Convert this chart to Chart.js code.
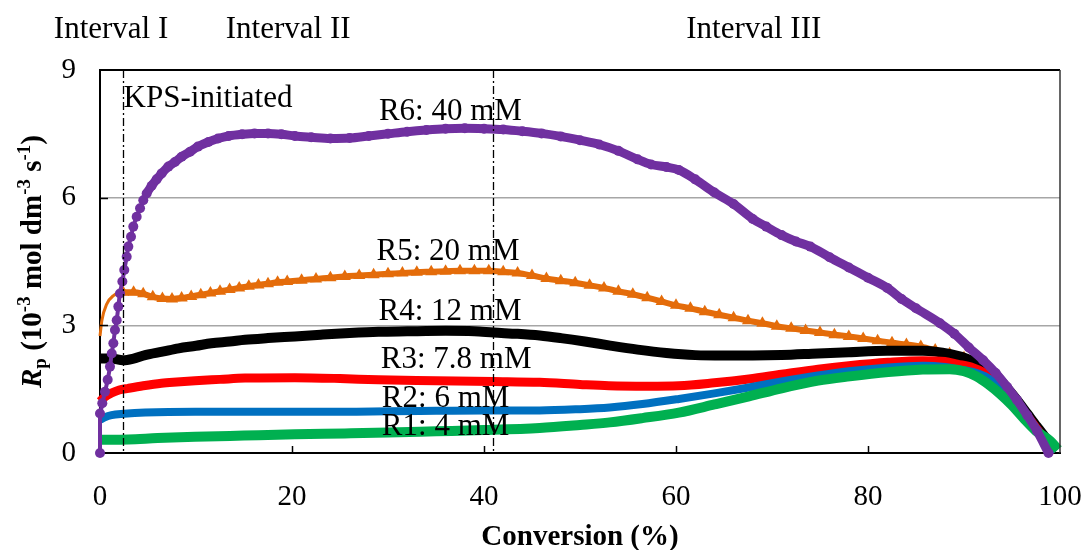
<!DOCTYPE html>
<html>
<head>
<meta charset="utf-8">
<script src="https://cdn.jsdelivr.net/npm/chart.js"></script>
<style>
  body { margin: 0; background: #fff; }
</style>
</head>
<body>
<canvas id="rpChart" width="1086" height="550"></canvas>
<script>
const FONT = '"Liberation Serif", "Times New Roman", serif';

// polymerization rate vs conversion, one array pair per KPS level
const r1X = [0, 2.95, 6, 9.9, 15, 20.3, 25.5, 30, 35, 40,
  45.8, 50, 53.1, 56.5, 60.3, 64, 67.6, 71, 74.8, 78.1,
  82.1, 85.7, 88.5, 90, 91.3, 92.5, 93.8, 95, 96.2, 97.5,
  99, 99.8];
const r1Y = [0.31, 0.32, 0.35, 0.38, 0.41, 0.44, 0.46, 0.48, 0.51, 0.54,
  0.59, 0.66, 0.72, 0.82, 0.95, 1.14, 1.33, 1.52, 1.70, 1.80,
  1.90, 1.96, 1.97, 1.92, 1.80, 1.62, 1.38, 1.12, 0.82, 0.52,
  0.28, 0.08];

const r2X = [0, 0.5, 1.2, 2.5, 4.7, 9.9, 15, 20.3, 25.5, 30,
  35, 40, 45.8, 50, 53.1, 56.5, 60.3, 64, 67.6, 71,
  74.8, 78, 82.1, 85.7, 88, 89.3, 91, 92.2, 93.5, 95,
  96.5, 98, 99.6];
const r2Y = [0.78, 0.84, 0.89, 0.92, 0.95, 0.97, 0.97, 0.97, 0.97, 0.98,
  0.99, 1.00, 1.00, 1.03, 1.07, 1.15, 1.27, 1.40, 1.54, 1.68,
  1.82, 1.92, 2.01, 2.05, 2.02, 1.97, 1.90, 1.80, 1.60, 1.25,
  0.88, 0.45, 0.05];

const r3X = [0, 0.5, 1.2, 2, 2.95, 4.5, 6.4, 8, 9.9, 12.5,
  15.1, 20.3, 25, 29, 35, 41, 45.8, 50, 53, 57,
  60.3, 64, 67.6, 71, 74.8, 78, 82.1, 85.7, 88, 89.3,
  91, 92.2, 93.5, 95, 96.5, 98, 99.6];
const r3Y = [1.21, 1.32, 1.41, 1.48, 1.52, 1.58, 1.64, 1.67, 1.70, 1.73,
  1.76, 1.77, 1.75, 1.72, 1.70, 1.68, 1.66, 1.61, 1.58, 1.57,
  1.58, 1.65, 1.74, 1.85, 1.97, 2.05, 2.13, 2.17, 2.15, 2.09,
  2.00, 1.88, 1.65, 1.30, 0.90, 0.45, 0.05];

const r4X = [0, 1.2, 2.4, 3.5, 4.7, 6.5, 8.2, 10, 11.6, 13.5,
  15.1, 17.5, 20.3, 23, 26, 29, 32, 36, 39, 41,
  43.5, 45.8, 48, 50.5, 53, 56, 59, 62, 65, 68,
  71, 74.8, 78, 82, 85.7, 88.6, 90.5, 92, 93.1, 94.4,
  95.5, 96.6, 97.6, 98.5, 99.6];
const r4Y = [2.22, 2.22, 2.18, 2.22, 2.30, 2.38, 2.46, 2.52, 2.58, 2.62,
  2.66, 2.70, 2.74, 2.78, 2.82, 2.85, 2.86, 2.87, 2.86, 2.83,
  2.80, 2.76, 2.70, 2.62, 2.53, 2.43, 2.35, 2.30, 2.29, 2.29,
  2.30, 2.34, 2.37, 2.40, 2.40, 2.32, 2.20, 2.05, 1.88, 1.55,
  1.25, 0.92, 0.62, 0.36, 0.10];

const r5X = [0, 0.2, 0.7, 1.4, 2.4, 3.5, 4.5, 5.5, 6.5, 7.5,
  8.5, 9.5, 10.5, 11.5, 12.5, 13.5, 14.5, 15.5, 16.5, 17.5,
  18.5, 19.5, 21, 22.5, 24, 25.5, 27, 28.5, 30, 31.5,
  33, 34.5, 36, 37.5, 39, 40.5, 42, 43.5, 45, 46.5,
  48, 49.5, 51, 52.5, 54, 55.5, 57, 58.5, 60, 61.5,
  63, 64.5, 66, 67.5, 69, 70.5, 72, 73.5, 75, 76.5,
  78, 79.5, 81, 82.5, 84, 85.5, 87, 88.5, 90, 91.2,
  92.5, 93.5, 95, 96.5, 98, 99.5];
const r5Y = [2.75, 3.12, 3.50, 3.70, 3.78, 3.78, 3.74, 3.67, 3.63, 3.62,
  3.64, 3.68, 3.72, 3.76, 3.80, 3.84, 3.88, 3.92, 3.95, 3.98,
  4.01, 4.03, 4.06, 4.09, 4.12, 4.15, 4.17, 4.19, 4.21, 4.23,
  4.25, 4.26, 4.27, 4.28, 4.28, 4.28, 4.26, 4.23, 4.17, 4.10,
  4.05, 4.00, 3.94, 3.88, 3.80, 3.73, 3.65, 3.56, 3.47, 3.40,
  3.32, 3.25, 3.18, 3.11, 3.05, 2.98, 2.93, 2.88, 2.83, 2.78,
  2.74, 2.69, 2.64, 2.59, 2.55, 2.50, 2.42, 2.33, 2.24, 2.12,
  1.95, 1.75, 1.35, 0.90, 0.45, 0.05];

const r6X = [0, 0, 0.24, 0.52, 0.80, 1.04, 1.22, 1.39, 1.56, 1.74,
  1.91, 2.08, 2.33, 2.53, 2.78, 2.95, 3.23, 3.47, 3.82, 4.17,
  4.51, 4.86, 5.38, 5.9, 6.42, 7.12, 7.81, 8.51, 9.38, 10.2,
  11.3, 12.3, 13.4, 14.8, 16.1, 17.5, 18.9, 20.3, 22, 24,
  26, 28, 30, 32, 34, 36, 38, 40, 42, 44,
  46, 48, 50, 52, 54, 56, 57.4, 59, 60.3, 62,
  64, 66, 68, 69.4, 71, 72.5, 74, 76, 78, 80,
  82, 83.5, 85, 87.5, 89, 90.5, 92, 93.3, 94.5, 95.5,
  96.6, 97.6, 98.8];
const r6Y = [0, 0.93, 1.17, 1.44, 1.72, 2.03, 2.34, 2.58, 2.89, 3.12,
  3.44, 3.75, 4.03, 4.30, 4.61, 4.85, 5.08, 5.32, 5.55, 5.75,
  5.94, 6.10, 6.28, 6.43, 6.57, 6.73, 6.84, 6.96, 7.08, 7.20,
  7.31, 7.39, 7.45, 7.49, 7.51, 7.51, 7.49, 7.45, 7.42, 7.39,
  7.40, 7.45, 7.50, 7.55, 7.59, 7.62, 7.63, 7.62, 7.60, 7.56,
  7.51, 7.44, 7.35, 7.25, 7.10, 6.90, 6.78, 6.72, 6.65, 6.43,
  6.12, 5.85, 5.50, 5.32, 5.12, 4.97, 4.85, 4.60, 4.36, 4.12,
  3.88, 3.62, 3.40, 3.05, 2.80, 2.48, 2.18, 1.88, 1.55, 1.25,
  0.88, 0.52, 0];

const seriesNames = ['R1: 4 mM', 'R2: 6 mM', 'R3: 7.8 mM', 'R4: 12 mM', 'R5: 20 mM', 'R6: 40 mM'];
const intervalNames = ['Interval I', 'Interval II', 'Interval III'];
const intervalBounds = [2.4, 40.9];
const xTicks = [0, 20, 40, 60, 80, 100];
const yTicks = [0, 3, 6, 9];

const pts = (xs, ys) => xs.map((x, i) => ({x: x, y: ys[i]}));

// where the text notes sit, in axis units
const notePos = [[36.0, 0.42], [36.0, 1.09], [37.1, 1.99], [36.46, 3.125], [36.25, 4.53], [36.5, 7.82]];
const intervalPos = [1.15, 19.6, 68.1];

const annotations = {
  id: 'annotations',
  afterDatasetsDraw(chart) {
    const {ctx, chartArea: a, scales: {x, y}} = chart;
    ctx.save();

    // interval boundaries
    ctx.strokeStyle = '#000';
    ctx.lineWidth = 1.3;
    ctx.setLineDash([8, 3, 2, 3]);
    intervalBounds.forEach(v => {
      const px = Math.round(x.getPixelForValue(v)) + 0.5;
      ctx.beginPath();
      ctx.moveTo(px, a.top);
      ctx.lineTo(px, a.bottom);
      ctx.stroke();
    });
    ctx.setLineDash([]);

    // top and right edges of the plot frame
    ctx.lineWidth = 2;
    ctx.strokeStyle = '#000';
    ctx.beginPath();
    ctx.moveTo(a.left - 1, a.top);
    ctx.lineTo(a.right, a.top);
    ctx.stroke();
    ctx.strokeStyle = '#333';
    ctx.lineWidth = 1.5;
    ctx.beginPath();
    ctx.moveTo(a.right, a.top);
    ctx.lineTo(a.right, a.bottom);
    ctx.stroke();

    // short inward tick marks
    ctx.strokeStyle = '#000';
    ctx.lineWidth = 1.5;
    xTicks.slice(1, -1).forEach(v => {
      const px = Math.round(x.getPixelForValue(v)) + 0.5;
      ctx.beginPath();
      ctx.moveTo(px, a.bottom);
      ctx.lineTo(px, a.bottom - 7);
      ctx.stroke();
    });
    yTicks.slice(1, -1).forEach(v => {
      const py = Math.round(y.getPixelForValue(v)) + 0.5;
      ctx.beginPath();
      ctx.moveTo(a.left, py);
      ctx.lineTo(a.left + 8, py);
      ctx.stroke();
    });

    // series and initiator notes
    ctx.fillStyle = '#000';
    ctx.font = '31px ' + FONT;
    ctx.textAlign = 'center';
    ctx.textBaseline = 'alphabetic';
    seriesNames.forEach((t, i) => {
      ctx.fillText(t, x.getPixelForValue(notePos[i][0]), y.getPixelForValue(notePos[i][1]));
    });
    ctx.fillText('KPS-initiated', x.getPixelForValue(11.25), y.getPixelForValue(8.13));
    intervalNames.forEach((t, i) => {
      ctx.fillText(t, x.getPixelForValue(intervalPos[i]), a.top - 32);
    });
    ctx.restore();
  },
  afterDraw(chart) {
    const {ctx, chartArea: a} = chart;
    ctx.save();
    ctx.fillStyle = '#000';
    ctx.textAlign = 'left';
    ctx.textBaseline = 'alphabetic';

    const big = 'bold 29px ' + FONT;
    const small = 'bold 19px ' + FONT;
    const runs = [
      {text: 'R', font: 'italic bold 29px ' + FONT, dy: 0},
      {text: 'p', font: small, dy: 5},
      {text: ' (10', font: big, dy: 0},
      {text: '-3', font: small, dy: -11},
      {text: ' mol dm', font: big, dy: 0},
      {text: '-3', font: small, dy: -11},
      {text: ' s', font: big, dy: 0},
      {text: '-1', font: small, dy: -11},
      {text: ')', font: big, dy: 0}
    ];
    let total = 0;
    runs.forEach(r => { ctx.font = r.font; r.w = ctx.measureText(r.text).width; total += r.w; });
    ctx.translate(41, (a.top + a.bottom) / 2);
    ctx.rotate(-Math.PI / 2);
    let pos = -total / 2;
    runs.forEach(r => { ctx.font = r.font; ctx.fillText(r.text, pos, r.dy); pos += r.w; });
    ctx.setTransform(1, 0, 0, 1, 0, 0);

    ctx.font = big;
    ctx.textAlign = 'center';
    ctx.fillText('Conversion (%)', (a.left + a.right) / 2, 545);
    ctx.restore();
  }
};

const lineDefaults = {
  pointRadius: 0,
  borderJoinStyle: 'round',
  cubicInterpolationMode: 'monotone',
  clip: false
};

new Chart(document.getElementById('rpChart'), {
  type: 'line',
  data: {
    datasets: [
      Object.assign({}, lineDefaults, {
        label: seriesNames[5], data: pts(r6X, r6Y), order: 0,
        borderColor: '#7030A0', backgroundColor: '#7030A0',
        pointRadius: 5, pointBorderWidth: 0, pointStyle: 'circle',
        borderWidth: 9,
        segment: { borderWidth: c => c.p1.parsed.x < 5 ? 4 : 9 }
      }),
      Object.assign({}, lineDefaults, {
        label: seriesNames[0], data: pts(r1X, r1Y), order: 1,
        borderColor: '#00B050', borderWidth: 10
      }),
      Object.assign({}, lineDefaults, {
        label: seriesNames[1], data: pts(r2X, r2Y), order: 2,
        borderColor: '#0070C0', borderWidth: 8
      }),
      Object.assign({}, lineDefaults, {
        label: seriesNames[2], data: pts(r3X, r3Y), order: 3,
        borderColor: '#FF0000', borderWidth: 9
      }),
      Object.assign({}, lineDefaults, {
        label: seriesNames[3], data: pts(r4X, r4Y), order: 4,
        borderColor: '#000000', borderWidth: 10
      }),
      Object.assign({}, lineDefaults, {
        label: seriesNames[4], data: pts(r5X, r5Y), order: 5,
        borderColor: '#E46C0A', backgroundColor: '#E46C0A',
        pointStyle: 'triangle', pointBorderWidth: 0,
        pointRadius: c => (c.raw && c.raw.x >= 2.4 && c.raw.x <= 90) ? 7 : 0,
        borderWidth: 6,
        segment: { borderWidth: c => c.p1.parsed.x <= 2.4 ? 3 : 6 }
      })
    ]
  },
  options: {
    responsive: false,
    animation: false,
    devicePixelRatio: 1,
    layout: { padding: { left: 0, top: 70, right: 26, bottom: 0 } },
    plugins: { legend: { display: false }, tooltip: { enabled: false } },
    scales: {
      x: {
        type: 'linear', min: 0, max: 100,
        afterBuildTicks: s => { s.ticks = xTicks.map(v => ({value: v})); },
        afterFit: s => { s.height = 97; s.paddingLeft = 0; s.paddingRight = 0; },
        grid: { display: false, drawTicks: false },
        border: { display: true, color: '#000', width: 2 },
        ticks: { color: '#000', padding: 27, font: { family: FONT, size: 29 } }
      },
      y: {
        min: 0, max: 9,
        afterBuildTicks: s => { s.ticks = yTicks.map(v => ({value: v})); },
        afterFit: s => { s.width = 100; s.paddingTop = 0; s.paddingBottom = 0; },
        grid: { color: '#A6A6A6', lineWidth: 1.5, drawTicks: false },
        border: { display: true, color: '#000', width: 2 },
        ticks: { color: '#000', padding: 24, font: { family: FONT, size: 29 } }
      }
    }
  },
  plugins: [annotations]
});
</script>
</body>
</html>
